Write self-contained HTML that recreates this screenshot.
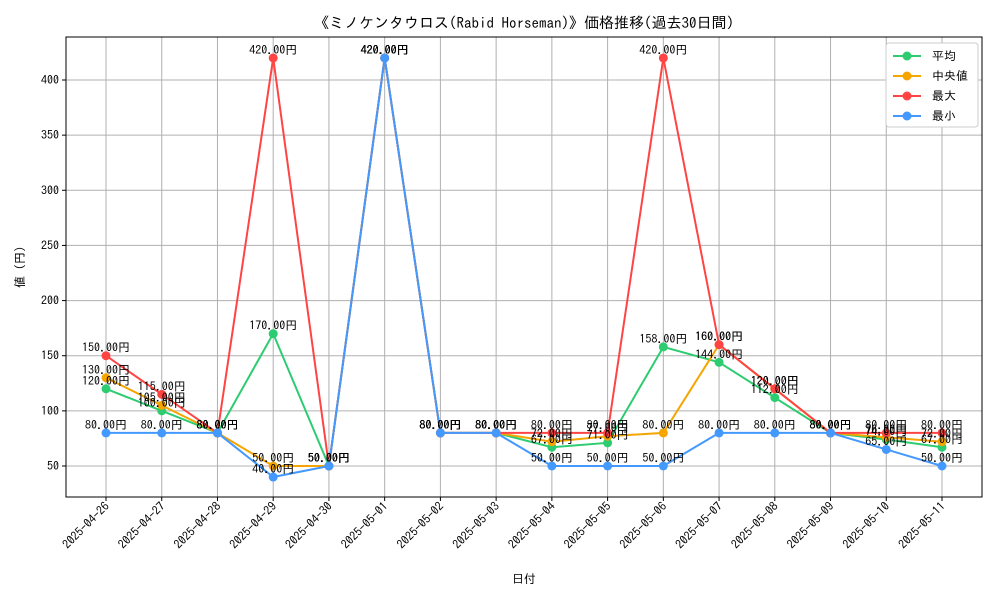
<!DOCTYPE html>
<html><head><meta charset="utf-8"><style>
body{margin:0;background:#fff}
svg text{font-family:"IPAGothic","Liberation Sans","Noto Sans CJK JP",sans-serif}
</style></head><body>
<svg id="chart" width="1000" height="600" xmlns="http://www.w3.org/2000/svg">
<rect width="1000" height="600" fill="#fff"/>
<text x="524" y="28" text-anchor="middle" font-size="15">《ミノケンタウロス(Rabid Horseman)》価格推移(過去30日間)</text>
<g id="grid"></g>
<g id="axes"></g>
<g id="series"></g>
<rect x="66" y="37" width="916" height="460" fill="none" stroke="#000" stroke-width="1"/>
<text x="524" y="583" text-anchor="middle" font-size="12">日付</text>
<text transform="translate(24,267) rotate(-90)" text-anchor="middle" font-size="12">値 (円)</text>
<g id="legend"></g>
</svg>
<script>
const dates=["2025-04-26","2025-04-27","2025-04-28","2025-04-29","2025-04-30","2025-05-01","2025-05-02","2025-05-03","2025-05-04","2025-05-05","2025-05-06","2025-05-07","2025-05-08","2025-05-09","2025-05-10","2025-05-11"];
const avgVals=[120,100,80,170,50,420,80,80,67,71,158,144,112,80,74,67];
const medianVals=[130,105,80,50,50,420,80,80,72,77,80,160,120,80,76,72];
const maxVals=[150,115,80,420,50,420,80,80,80,80,420,160,120,80,80,80];
const minVals=[80,80,80,40,50,420,80,80,50,50,50,80,80,80,65,50];
const yTicks=[50,100,150,200,250,300,350,400];
const seriesNames=["平均","中央値","最大","最小"];

const NS="http://www.w3.org/2000/svg";
function mk(tag,attrs,parent){const e=document.createElementNS(NS,tag);for(const k in attrs)e.setAttribute(k,attrs[k]);parent.appendChild(e);return e;}
const x=i=>106+i*(942-106)/(dates.length-1);
const y=v=>466-(v-50)*(386/350);
const grid=document.getElementById('grid'),axes=document.getElementById('axes'),ser=document.getElementById('series'),leg=document.getElementById('legend');

dates.forEach((d,i)=>{
  const l=mk('line',{x1:x(i),x2:x(i),y1:37,y2:497,stroke:'#b0b0b0','stroke-width':1},grid);
  
  
  const tk=mk('line',{x1:x(i),x2:x(i),y1:497,y2:501,stroke:'#000'},axes);
  
  
  const t=mk('text',{x:x(i)+4,y:507,'font-size':12,'text-anchor':'end',transform:`rotate(-45 ${x(i)+4} 507)`},axes);
  t.textContent=d;
  
  
});
yTicks.forEach(v=>{
  const l=mk('line',{x1:66,x2:982,y1:y(v),y2:y(v),stroke:'#b0b0b0','stroke-width':1},grid);
  
  
  const tk=mk('line',{x1:62,x2:66,y1:y(v),y2:y(v),stroke:'#000'},axes);
  
  
  const t=mk('text',{x:59,y:y(v)+4,'font-size':12,'text-anchor':'end'},axes);
  t.textContent=v;
  
  
});

const all=[[avgVals,'#2ecc71','avg'],[medianVals,'#f5a500','median'],[maxVals,'#ff4444','max'],[minVals,'#4499ff','min']];
all.forEach(([vals,col,key])=>{
  const g=mk('g',{},ser);
  
  
  const pl=mk('polyline',{points:vals.map((v,i)=>x(i)+','+y(v)).join(' '),fill:'none',stroke:col,'stroke-width':2},g);
  
  
  vals.forEach((v,i)=>{
    const c=mk('circle',{cx:x(i),cy:y(v),r:4.5,fill:col},g);
    
    
  });
});
all.forEach(([vals,col,key])=>{
  vals.forEach((v,i)=>{
    const t=mk('text',{x:x(i),y:y(v)-4,'font-size':12,'text-anchor':'middle'},ser);
    t.textContent=v.toFixed(2)+'円';
    
    
  });
});

const lb=mk('rect',{x:886,y:43,width:92,height:84,fill:'#fff',stroke:'#ccc',rx:3},leg);


all.forEach(([vals,col,key],k)=>{
  const yy=56+k*20;
  const g=mk('g',{},leg);
  
  
  mk('line',{x1:893,x2:921,y1:yy,y2:yy,stroke:col,'stroke-width':2},g);
  mk('circle',{cx:907,cy:yy,r:4.5,fill:col},g);
  const t=mk('text',{x:932,y:yy+4,'font-size':12},g);
  t.textContent=seriesNames[k];
});
</script>
</body></html>
